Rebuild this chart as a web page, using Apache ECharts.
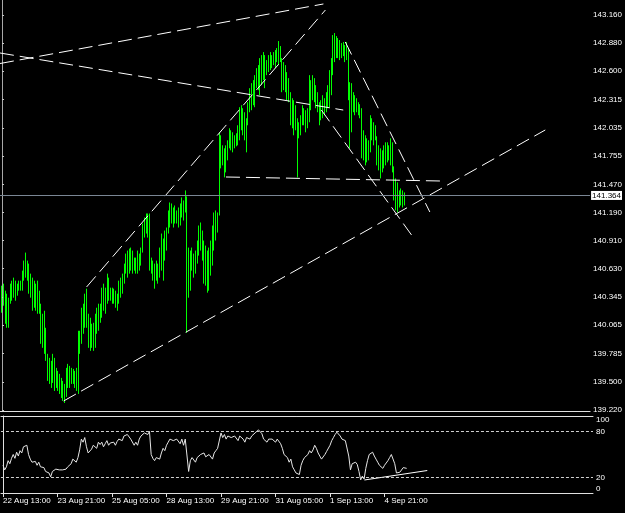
<!DOCTYPE html>
<html><head><meta charset="utf-8">
<script src="https://cdn.jsdelivr.net/npm/echarts@6/dist/echarts.min.js"></script>
<style>html,body{margin:0;padding:0;background:#000;overflow:hidden}#c{width:625px;height:513px}</style>
</head><body><div id="c"></div>
<script>
// ---- H1 bars (bar index 0 = 22 Aug 13:00) ----
const opens = [
140.31,140.41,140.31,140.16,140.26,140.31,140.43,140.36,140.49,140.39,
140.45,140.47,140.44,140.59,140.69,140.61,140.66,140.46,140.41,140.29,
140.46,140.31,140.36,140.23,139.96,140.11,139.86,139.76,139.59,139.66,
139.51,139.71,139.46,139.56,139.46,139.53,139.39,139.46,139.36,139.59,
139.51,139.61,139.53,139.59,139.49,139.43,139.91,139.96,140.19,140.11,
140.31,140.13,139.93,140.01,139.89,140.06,140.13,140.19,140.11,140.25,
140.36,140.31,140.41,140.51,140.39,140.36,140.41,140.33,140.31,140.35,
140.46,140.41,140.53,140.63,140.73,140.66,140.76,140.69,140.73,140.66,
140.71,140.76,140.69,140.81,141.03,141.11,141.06,141.13,140.69,140.63,
140.56,140.61,140.66,140.56,140.76,140.91,140.73,140.96,141.01,141.16,
141.23,141.16,141.21,141.13,141.19,141.11,141.23,141.19,141.26,141.33,
140.61,140.46,140.71,140.76,140.63,140.73,140.86,140.96,140.91,140.81,
140.61,140.71,140.51,140.69,140.81,140.96,141.09,141.13,141.17,141.91,
141.71,141.81,141.61,141.76,141.86,141.96,141.89,141.93,141.89,141.95,
142.03,142.19,142.11,142.16,142.03,142.11,142.23,142.36,142.31,142.43,
142.49,142.56,142.46,142.63,142.69,142.61,142.66,142.61,142.71,142.66,
142.73,142.69,142.76,142.79,142.83,142.71,142.46,142.61,142.43,142.51,
142.33,142.16,142.26,142.06,142.11,142.01,142.06,142.13,142.21,142.13,
142.16,142.11,142.46,142.36,142.49,142.41,142.33,142.26,142.16,142.23,
142.19,142.26,142.33,142.31,142.53,142.69,142.86,142.91,142.81,142.86,
142.79,142.83,142.79,142.76,142.81,142.46,142.01,142.36,142.26,142.31,
142.23,142.26,142.19,141.81,141.91,141.76,141.86,141.81,142.09,142.01,
142.03,141.93,141.76,141.66,141.79,141.71,141.81,141.76,141.83,141.79,
141.86,141.63,141.36,141.26,141.31,141.36,141.33,141.36];
const closes = [
140.41,140.31,140.16,140.26,140.31,140.43,140.36,140.49,140.39,140.45,
140.47,140.44,140.59,140.69,140.61,140.66,140.46,140.41,140.29,140.46,
140.31,140.36,140.23,139.96,140.11,139.86,139.76,139.59,139.66,139.51,
139.71,139.46,139.56,139.46,139.53,139.39,139.46,139.36,139.59,139.51,
139.61,139.53,139.59,139.49,139.43,139.91,139.96,140.19,140.11,140.31,
140.13,139.93,140.01,139.89,140.06,140.13,140.19,140.11,140.25,140.36,
140.31,140.41,140.51,140.39,140.36,140.41,140.33,140.31,140.35,140.46,
140.41,140.53,140.63,140.73,140.66,140.76,140.69,140.73,140.66,140.71,
140.76,140.69,140.81,141.03,141.11,141.06,141.13,140.69,140.63,140.56,
140.61,140.66,140.56,140.76,140.91,140.73,140.96,141.01,141.16,141.23,
141.16,141.21,141.13,141.19,141.11,141.23,141.19,141.26,141.33,140.61,
140.46,140.71,140.76,140.63,140.73,140.86,140.96,140.91,140.81,140.61,
140.71,140.51,140.69,140.81,140.96,141.09,141.13,141.17,141.91,141.71,
141.81,141.61,141.76,141.86,141.96,141.89,141.93,141.89,141.95,142.03,
142.19,142.11,142.16,142.03,142.11,142.23,142.36,142.31,142.43,142.49,
142.56,142.46,142.63,142.69,142.61,142.66,142.61,142.71,142.66,142.73,
142.69,142.76,142.79,142.83,142.71,142.46,142.61,142.43,142.51,142.33,
142.16,142.26,142.06,142.11,142.01,142.06,142.13,142.21,142.13,142.16,
142.11,142.46,142.36,142.49,142.41,142.33,142.26,142.16,142.23,142.19,
142.26,142.33,142.31,142.53,142.69,142.86,142.91,142.81,142.86,142.79,
142.83,142.79,142.76,142.81,142.46,142.01,142.36,142.26,142.31,142.23,
142.26,142.19,141.81,141.91,141.76,141.86,141.81,142.09,142.01,142.03,
141.93,141.76,141.66,141.79,141.71,141.81,141.76,141.83,141.79,141.86,
141.63,141.36,141.26,141.31,141.36,141.33,141.36,141.364];
const lows = [
140.19,140.26,140.08,140.04,140.04,140.28,140.31,140.34,140.31,140.36,
140.41,140.41,140.41,140.51,140.54,140.51,140.38,140.34,140.21,140.24,
140.21,140.18,140.18,139.88,139.84,139.78,139.71,139.51,139.48,139.44,
139.49,139.41,139.44,139.41,139.38,139.34,139.31,139.29,139.35,139.44,
139.44,139.48,139.48,139.44,139.41,139.38,139.78,139.88,139.98,140.04,
140.04,139.84,139.81,139.84,139.81,139.84,139.98,140.01,140.09,140.14,
140.21,140.18,140.28,140.31,140.31,140.28,140.28,140.24,140.21,140.28,
140.34,140.38,140.48,140.58,140.54,140.58,140.61,140.58,140.61,140.58,
140.58,140.61,140.66,140.79,140.94,140.98,140.94,140.61,140.58,140.51,
140.43,140.51,140.48,140.54,140.61,140.51,140.71,140.81,140.98,141.04,
141.08,141.04,141.08,141.08,141.04,141.06,141.14,141.11,141.19,139.99,
140.34,140.41,140.61,140.54,140.58,140.68,140.76,140.81,140.71,140.48,
140.46,140.39,140.41,140.56,140.66,140.81,140.91,140.99,141.16,141.63,
141.66,141.54,141.59,141.71,141.83,141.81,141.79,141.83,141.85,141.86,
141.91,142.01,141.96,141.91,141.79,142.06,142.19,142.21,142.26,142.24,
142.43,142.41,142.36,142.46,142.51,142.43,142.56,142.59,142.61,142.63,
142.66,142.63,142.69,142.66,142.69,142.39,142.41,142.39,142.31,142.29,
142.06,142.03,141.96,142.01,141.54,141.93,141.96,142.06,142.06,141.99,
142.03,142.09,142.21,142.31,142.29,142.23,142.19,142.06,142.11,142.13,
142.16,142.19,142.23,142.23,142.36,142.56,142.69,142.73,142.73,142.71,
142.73,142.75,142.69,142.71,142.31,141.83,141.99,142.19,142.16,142.19,
142.16,142.13,141.73,141.71,141.66,141.69,141.71,141.79,141.91,141.86,
141.91,141.66,141.61,141.53,141.59,141.63,141.66,141.69,141.71,141.66,
141.59,141.31,141.21,141.19,141.24,141.26,141.24,141.26];
const highs = [
140.46,140.48,140.41,140.38,140.34,140.48,140.51,140.54,140.51,140.48,
140.51,140.51,140.61,140.71,140.79,140.71,140.68,140.58,140.54,140.51,
140.48,140.51,140.41,140.28,140.18,140.21,140.04,139.78,139.74,139.71,
139.78,139.74,139.64,139.61,139.58,139.54,139.51,139.48,139.64,139.68,
139.66,139.64,139.63,139.61,139.64,140.01,140.01,140.24,140.28,140.38,
140.43,140.18,140.14,140.08,140.09,140.18,140.24,140.28,140.28,140.44,
140.48,140.44,140.58,140.54,140.44,140.44,140.43,140.41,140.38,140.51,
140.54,140.58,140.68,140.78,140.81,140.83,140.84,140.81,140.74,140.74,
140.81,140.78,140.84,141.08,141.14,141.18,141.18,141.18,140.74,140.71,
140.68,140.71,140.68,140.84,140.98,140.93,141.01,141.04,141.21,141.29,
141.28,141.24,141.26,141.21,141.24,141.28,141.34,141.31,141.41,141.35,
140.84,140.81,140.84,140.78,140.81,140.91,141.06,141.09,141.01,140.91,
140.86,140.81,140.84,140.91,141.06,141.19,141.21,141.19,141.99,141.96,
141.86,141.83,141.86,141.91,142.03,142.01,141.99,141.96,141.98,142.06,
142.24,142.26,142.23,142.19,142.13,142.29,142.43,142.48,142.51,142.56,
142.63,142.66,142.73,142.76,142.79,142.76,142.71,142.76,142.79,142.76,
142.79,142.81,142.83,142.90,142.85,142.73,142.69,142.66,142.59,142.53,
142.39,142.33,142.31,142.26,142.13,142.09,142.16,142.26,142.23,142.21,
142.23,142.56,142.51,142.56,142.53,142.46,142.39,142.29,142.31,142.36,
142.33,142.39,142.46,142.61,142.73,142.96,142.98,142.95,142.93,142.91,
142.88,142.89,142.86,142.89,142.83,142.49,142.48,142.39,142.36,142.33,
142.29,142.27,142.23,142.01,141.96,141.93,141.91,142.16,142.13,142.09,
142.06,141.95,141.86,141.83,141.81,141.86,141.89,141.89,141.86,141.93,
141.89,141.65,141.53,141.49,141.41,141.43,141.41,141.39];
// RSI values, one per bar
const rsi = [
36,30,34, 42,38,45, 50,45,53,48, 55,52,60,58, 62, 50,44,40,38, 41,36,40,34,
32,33,28,30,26, 21, 28,30,31,29,30,32,30,29,31, 34,33,38, 44,42,40,46, 56,
70,66,72, 60,52,50,57, 62,64,58,66,63, 66,60,64,68,62,65, 63,66,62,67,70,
72,68,74,72,76,78, 70,68,62,66, 62,70,74,76, 78,80,76,80, 50,45,42,46,
48,44,52, 58,55,62,66, 70,72,68,66,70,68, 64,70,62, 70,72, 28,
42,46,48,40, 46,44,50,48, 52,47,45,50, 48,44,52,55,58,56, 78,
72,76,70,74, 76,72,70,74, 72,68,74,76, 70,66,72,74,70, 74,76,78,80,
82,80,77, 70,72,66,70,68, 70,68,66,70,68, 64,58,50,48, 46,40,44,
34,30,26,28,24, 36,42,46,44, 50,55,52,56, 62,58, 52,48,44,46, 50,54,56,
62,68,72,76, 79,78, 74,70,72,68,66, 48,30, 38,36,40,37, 28,17, 22,18,
32,42, 50,52, 53,48,44, 40,36,34,32, 36,38,42, 46,50,52, 38,26,25, 27,26,
33,34,32];
const lastPrice = 141.364;

// ---- axis ticks / labels ----
const timeLabels = ['22 Aug 13:00','23 Aug 21:00','25 Aug 05:00','28 Aug 13:00','29 Aug 21:00','31 Aug 05:00','1 Sep 13:00','4 Sep 21:00'];
const timeLabelBars = [0,32,64,96,128,160,192,224];
const priceTicks = [143.160,142.880,142.600,142.315,142.035,141.755,141.470,141.190,140.910,140.630,140.345,140.065,139.785,139.500,139.220];
const rsiTicks = [0,20,80,100];
const rsiLevels = [20,80];

// ---- hand-drawn trend lines: [bar index, price] ----
const lineTopA = [[-1.2,142.676],[189.3,143.27]];
const lineTopB = [[-1.2,142.781],[201.0,142.212]];
const channelUpper = [[49.8,140.447],[190.5,143.21]];
const channelLower = [[36.3,139.31],[320.0,142.013]];
const neckline = [[131.9,141.544],[258.5,141.504]];
const fallFromTop = [[202.2,142.891],[252.0,141.195]];
const fallInner = [[188.1,142.212],[242.1,140.945]];
const rsiTrend = [[212.2,16.9],[249.1,29.2]];

const N = opens.length;
if ([closes,lows,highs,rsi].some(a => a.length !== N)) {
  throw new Error('length mismatch ' + [N, closes.length, lows.length, highs.length, rsi.length].join(','));
}

const FONT = 'Liberation Sans';
const X_MIN = -1.2, X_MAX = 346.4;
const candleData = opens.map((o,i) => [i, o, closes[i], lows[i], highs[i]]);
const rsiData = rsi.map((v,i) => [i, v]);
const dash = {color:'#ffffff', width:1, type:[14,6]};
function trend(pts, gi) {
  return {type:'line', xAxisIndex:gi, yAxisIndex:gi, data:pts, symbol:'none',
    lineStyle: gi === 0 ? dash : {color:'#ffffff', width:1}, silent:true, z:4};
}

const chart = echarts.init(document.getElementById('c'));
chart.setOption({
  backgroundColor:'#000000',
  animation:false,
  grid:[
    {left:0, right:32, top:0, height:411},
    {left:0, right:32, top:416, height:77}
  ],
  xAxis:[
    {gridIndex:0, type:'value', min:X_MIN, max:X_MAX, position:'bottom',
     axisLine:{show:true, onZero:false, lineStyle:{color:'#e0e0e0'}}, axisTick:{show:false}, axisLabel:{show:false}, splitLine:{show:false}},
    {gridIndex:1, type:'value', min:X_MIN, max:X_MAX, position:'bottom',
     axisLine:{show:true, onZero:false, lineStyle:{color:'#e0e0e0'}},
     axisTick:{show:true, customValues:timeLabelBars, length:4, lineStyle:{color:'#e0e0e0'}},
     axisLabel:{show:true, customValues:timeLabelBars, align:'left', margin:4, color:'#ffffff', fontSize:8, fontFamily:FONT,
       formatter:v => timeLabels[timeLabelBars.indexOf(Math.round(v))] || ''},
     splitLine:{show:false}},
    {gridIndex:1, type:'value', min:X_MIN, max:X_MAX, position:'top',
     axisLine:{show:true, onZero:false, lineStyle:{color:'#e0e0e0'}}, axisTick:{show:false}, axisLabel:{show:false}, splitLine:{show:false}}
  ],
  yAxis:[
    {gridIndex:0, type:'value', position:'right', min:139.2098, max:143.3096, scale:true,
     axisLine:{show:true, lineStyle:{color:'#a8a8a8'}},
     axisTick:{show:true, customValues:priceTicks, length:2, lineStyle:{color:'#c8c8c8'}},
     axisLabel:{customValues:priceTicks, formatter:v => v.toFixed(3), color:'#ffffff', fontSize:8, fontFamily:FONT, margin:3},
     splitLine:{show:false}},
    {gridIndex:1, type:'value', position:'right', min:0, max:100,
     axisLine:{show:true, lineStyle:{color:'#e0e0e0'}},
     axisTick:{show:false},
     axisLabel:{customValues:rsiTicks, formatter:v => String(v), color:'#ffffff', fontSize:8, fontFamily:FONT, margin:3,
       verticalAlignMaxLabel:'top', verticalAlignMinLabel:'bottom'},
     splitLine:{show:false}}
  ],
  series:[
    {type:'candlestick', xAxisIndex:0, yAxisIndex:0, data:candleData, encode:{x:0, y:[1,2,3,4]},
     barWidth:1, z:3,
     itemStyle:{color:'#00b000', color0:'#00ff00', borderColor:'#00ff00', borderColor0:'#00ff00', borderWidth:1},
     markLine:{symbol:['none','none'], silent:true, animation:false,
       data:[{yAxis:lastPrice}],
       lineStyle:{color:'#7a8694', type:'solid', width:1},
       label:{show:true, position:'end', distance:1, formatter:lastPrice.toFixed(3), backgroundColor:'#ffffff', color:'#000000',
         fontSize:8, fontFamily:FONT, padding:[1,1,0,1]}}},
    trend(lineTopA,0), trend(lineTopB,0), trend(channelUpper,0), trend(channelLower,0),
    trend(neckline,0), trend(fallFromTop,0), trend(fallInner,0),
    {type:'line', xAxisIndex:1, yAxisIndex:1, data:rsiData, symbol:'none', z:3,
     lineStyle:{color:'#e6e6e6', width:1},
     markLine:{symbol:['none','none'], silent:true, animation:false,
       data: rsiLevels.map(v => ({yAxis:v})),
       lineStyle:{color:'#d0d0d0', type:[3,2], width:1}, label:{show:false}}},
    trend(rsiTrend,1)
  ]
});
</script></body></html>
